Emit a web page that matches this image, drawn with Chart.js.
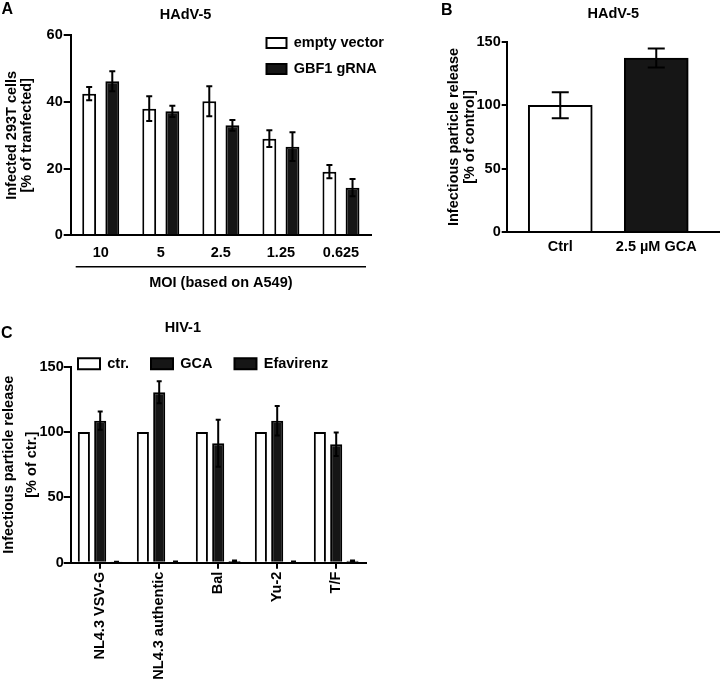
<!DOCTYPE html>
<html>
<head>
<meta charset="utf-8">
<script src="https://cdn.jsdelivr.net/npm/chart.js@4.4.1/dist/chart.umd.min.js"></script>
<style>
  body { margin: 0; background: #fff; }
  #page { position: relative; width: 720px; height: 683px; overflow: hidden; font-family: 'Liberation Sans', Arial, sans-serif; }
  .panel { position: absolute; }
  .tag { position: absolute; font-weight: bold; font-size: 16px; line-height: 16px; color: #000; }
</style>
</head>
<body>
<div id="page">
  <canvas id="chartA" class="panel" width="420" height="300" style="left:0;top:0"></canvas>
  <canvas id="chartB" class="panel" width="280" height="300" style="left:440px;top:0"></canvas>
  <canvas id="chartC" class="panel" width="420" height="383" style="left:0;top:300px"></canvas>
  <div class="tag" style="left:1.5px;top:1.2px">A</div>
  <div class="tag" style="left:441px;top:1.9px">B</div>
  <div class="tag" style="left:1px;top:324.5px">C</div>
</div>
<script>
// panel A - HAdV-5, MOI series
const moiLabels = ['10', '5', '2.5', '1.25', '0.625'];
const emptyVector = [42.5, 38.0, 40.2, 29.0, 19.1];
const emptyVectorErr = [2.0, 3.7, 4.5, 2.5, 2.0];
const gbf1 = [46.2, 37.2, 33.0, 26.6, 14.3];
const gbf1Err = [3.0, 1.7, 1.6, 4.3, 2.6];
const yTicksA = [0, 20, 40, 60];

// panel B - HAdV-5, GCA
const gcaLabels = ['Ctrl', '2.5 µM GCA'];
const gcaRelease = [100, 137.2];
const gcaReleaseErr = [10.2, 7.5];
const yTicksB = [0, 50, 100, 150];

// panel C - HIV-1
const hivLabels = ['NL4.3 VSV-G', 'NL4.3 authentic', 'Bal', 'Yu-2', 'T/F'];
const hivCtr = [100, 100, 100, 100, 100];
const hivGca = [108.7, 130.5, 91.4, 108.7, 90.7];
const hivGcaErr = [7.0, 8.4, 18.0, 11.3, 9.0];
const hivEfavirenz = [0.6, 0.8, 1.3, 0.8, 1.4];
const hivEfavirenzErr = [0.2, 0.2, 0.3, 0.2, 0.3];
const yTicksC = [0, 50, 100, 150];

const BLACK = '#000';
const DARK = '#161616';

Chart.defaults.font.family = "'Liberation Sans', Arial, sans-serif";
Chart.defaults.font.size = 14.5;
Chart.defaults.font.weight = 'bold';
Chart.defaults.color = BLACK;
Chart.defaults.animation = false;
Chart.defaults.responsive = false;

// error bars from dataset.errors, mapped through the y scale
const errorBars = {
  id: 'errorBars',
  afterDatasetsDraw(chart, args, opts) {
    const ctx = chart.ctx;
    const y = chart.scales.y;
    chart.data.datasets.forEach((ds, di) => {
      if (!ds.errors) return;
      const meta = chart.getDatasetMeta(di);
      meta.data.forEach((bar, i) => {
        const e = ds.errors[i];
        if (!e) return;
        const v = meta.controller.getParsed(i).y;
        const top = y.getPixelForValue(v + e);
        const bot = y.getPixelForValue(v - e);
        const half = opts.cap / 2;
        ctx.save();
        ctx.strokeStyle = BLACK;
        ctx.lineWidth = opts.width;
        ctx.beginPath();
        ctx.moveTo(bar.x, top);
        ctx.lineTo(bar.x, bot);
        ctx.moveTo(bar.x - half, top);
        ctx.lineTo(bar.x + half, top);
        ctx.moveTo(bar.x - half, bot);
        ctx.lineTo(bar.x + half, bot);
        ctx.stroke();
        ctx.restore();
      });
    });
  }
};

// put the legend where the figure has it (the legend clips to its own box)
const placeLegend = {
  id: 'placeLegend',
  beforeDraw(chart, args, opts) {
    const lg = chart.legend;
    if (!lg || opts.x === undefined) return;
    lg.left = opts.x;
    lg.top = opts.y;
    lg.width = opts.w;
    lg.height = opts.h;
    lg.right = opts.x + opts.w;
    lg.bottom = opts.y + opts.h;
  }
};

// rule under the MOI labels in panel A
const underline = {
  id: 'underline',
  afterDraw(chart, args, opts) {
    if (!opts.offset) return;
    const x = chart.scales.x;
    const ctx = chart.ctx;
    const yy = chart.chartArea.bottom + opts.offset;
    ctx.save();
    ctx.strokeStyle = BLACK;
    ctx.lineWidth = 1.6;
    ctx.beginPath();
    ctx.moveTo(x.left + 5, yy);
    ctx.lineTo(x.right - 5, yy);
    ctx.stroke();
    ctx.restore();
  }
};

function yAxis(ticks, width, tickLen, pad, title, titlePad, lineHeight) {
  return {
    min: ticks[0],
    max: ticks[ticks.length - 1],
    afterFit: (s) => { s.width = width; },
    ticks: { stepSize: ticks[1] - ticks[0], padding: pad },
    grid: { display: true, drawOnChartArea: false, drawTicks: true, tickLength: tickLen, lineWidth: 2, tickColor: BLACK },
    border: { display: true, color: BLACK, width: 2, z: 1 },
    title: { display: true, text: title, padding: { top: titlePad, bottom: 0 }, font: { size: 14.5, weight: 'bold', lineHeight: lineHeight } }
  };
}

new Chart(document.getElementById('chartA'), {
  type: 'bar',
  data: {
    labels: moiLabels,
    datasets: [
      { label: 'empty vector', data: emptyVector, errors: emptyVectorErr, backgroundColor: '#fff', borderColor: BLACK, borderWidth: 2 },
      { label: 'GBF1 gRNA', data: gbf1, errors: gbf1Err, backgroundColor: DARK, borderColor: BLACK, borderWidth: 2 }
    ]
  },
  options: {
    layout: { padding: { left: 0, right: 49, top: 0, bottom: 0 } },
    datasets: { bar: { categoryPercentage: 0.77, barPercentage: 0.6 } },
    scales: {
      x: {
        afterFit: (s) => { s.height = 64.7; },
        ticks: { padding: 9 },
        grid: { display: false, drawTicks: false },
        border: { display: true, color: BLACK, width: 2, z: 1 },
        title: { display: true, text: 'MOI (based on A549)', padding: { top: 0, bottom: 8.3 } }
      },
      y: yAxis(yTicksA, 70.7, 7, 1, ['Infected 293T cells', '[% of tranfected]'], 4.2, 1.034)
    },
    plugins: {
      title: { display: true, text: 'HAdV-5', padding: { top: 6.3, bottom: 11.6 }, font: { size: 14.5, weight: 'bold' } },
      legend: {
        position: 'chartArea',
        align: 'start',
        labels: { boxWidth: 20, boxHeight: 10, padding: 11.5, color: BLACK }
      },
      tooltip: { enabled: false },
      placeLegend: { x: 255, y: 24.3, w: 160, h: 70 },
      errorBars: { cap: 6, width: 2 },
      underline: { offset: 31.4 }
    }
  },
  plugins: [errorBars, placeLegend, underline]
});

new Chart(document.getElementById('chartB'), {
  type: 'bar',
  data: {
    datasets: [
      {
        label: 'release',
        data: gcaRelease.map((v, i) => ({ x: i, y: v })),
        errors: gcaReleaseErr,
        backgroundColor: ['#fff', DARK],
        borderColor: BLACK,
        borderWidth: 2,
        barThickness: 64
      }
    ]
  },
  options: {
    layout: { padding: 0 },
    scales: {
      x: {
        type: 'linear',
        offset: false,
        min: -0.558,
        max: 1.664,
        afterFit: (s) => { s.height = 67.7; },
        afterBuildTicks: (s) => { s.ticks = gcaLabels.map((_, i) => ({ value: i })); },
        ticks: { padding: 5.7, callback: (v) => gcaLabels[v] },
        grid: { display: false, drawTicks: false },
        border: { display: true, color: BLACK, width: 2, z: 1 }
      },
      y: yAxis(yTicksB, 66.7, 5, 1, ['Infectious particle release', '[% of control]'], 6, 1.1)
    },
    plugins: {
      title: { display: true, fullSize: false, text: 'HAdV-5', padding: { top: 5.6, bottom: 18.7 }, font: { size: 14.5, weight: 'bold' } },
      legend: { display: false },
      tooltip: { enabled: false },
      errorBars: { cap: 17, width: 2 }
    }
  },
  plugins: [errorBars]
});

new Chart(document.getElementById('chartC'), {
  type: 'bar',
  data: {
    labels: hivLabels,
    datasets: [
      { label: 'ctr.', data: hivCtr, backgroundColor: '#fff', borderColor: BLACK, borderWidth: 2 },
      { label: 'GCA', data: hivGca, errors: hivGcaErr, backgroundColor: DARK, borderColor: BLACK, borderWidth: 2 },
      { label: 'Efavirenz', data: hivEfavirenz, errors: hivEfavirenzErr, backgroundColor: DARK, borderColor: BLACK, borderWidth: 2 }
    ]
  },
  options: {
    layout: { padding: { left: 0, right: 54.3, top: 0, bottom: 0 } },
    datasets: { bar: { categoryPercentage: 0.83, barPercentage: 0.74 } },
    scales: {
      x: {
        afterFit: (s) => { s.height = 120.3; },
        ticks: { padding: 3, autoSkip: false, minRotation: 90, maxRotation: 90 },
        grid: { display: true, offset: false, drawOnChartArea: false, drawTicks: true, tickLength: 6, lineWidth: 2, tickColor: BLACK },
        border: { display: true, color: BLACK, width: 2, z: 1 }
      },
      y: yAxis(yTicksC, 70.7, 7, 0, ['Infectious particle release', '[% of ctr.]'], -2, 1.55)
    },
    plugins: {
      title: { display: true, text: 'HIV-1', padding: { top: 19.6, bottom: 19.7 }, font: { size: 14.5, weight: 'bold' } },
      legend: {
        position: 'top',
        align: 'start',
        maxHeight: 10,
        labels: { boxWidth: 22, boxHeight: 11, padding: 22, color: BLACK }
      },
      tooltip: { enabled: false },
      placeLegend: { x: 56, y: 34.5, w: 340, h: 50 },
      errorBars: { cap: 5, width: 2 }
    }
  },
  plugins: [errorBars, placeLegend]
});
</script>
</body>
</html>
